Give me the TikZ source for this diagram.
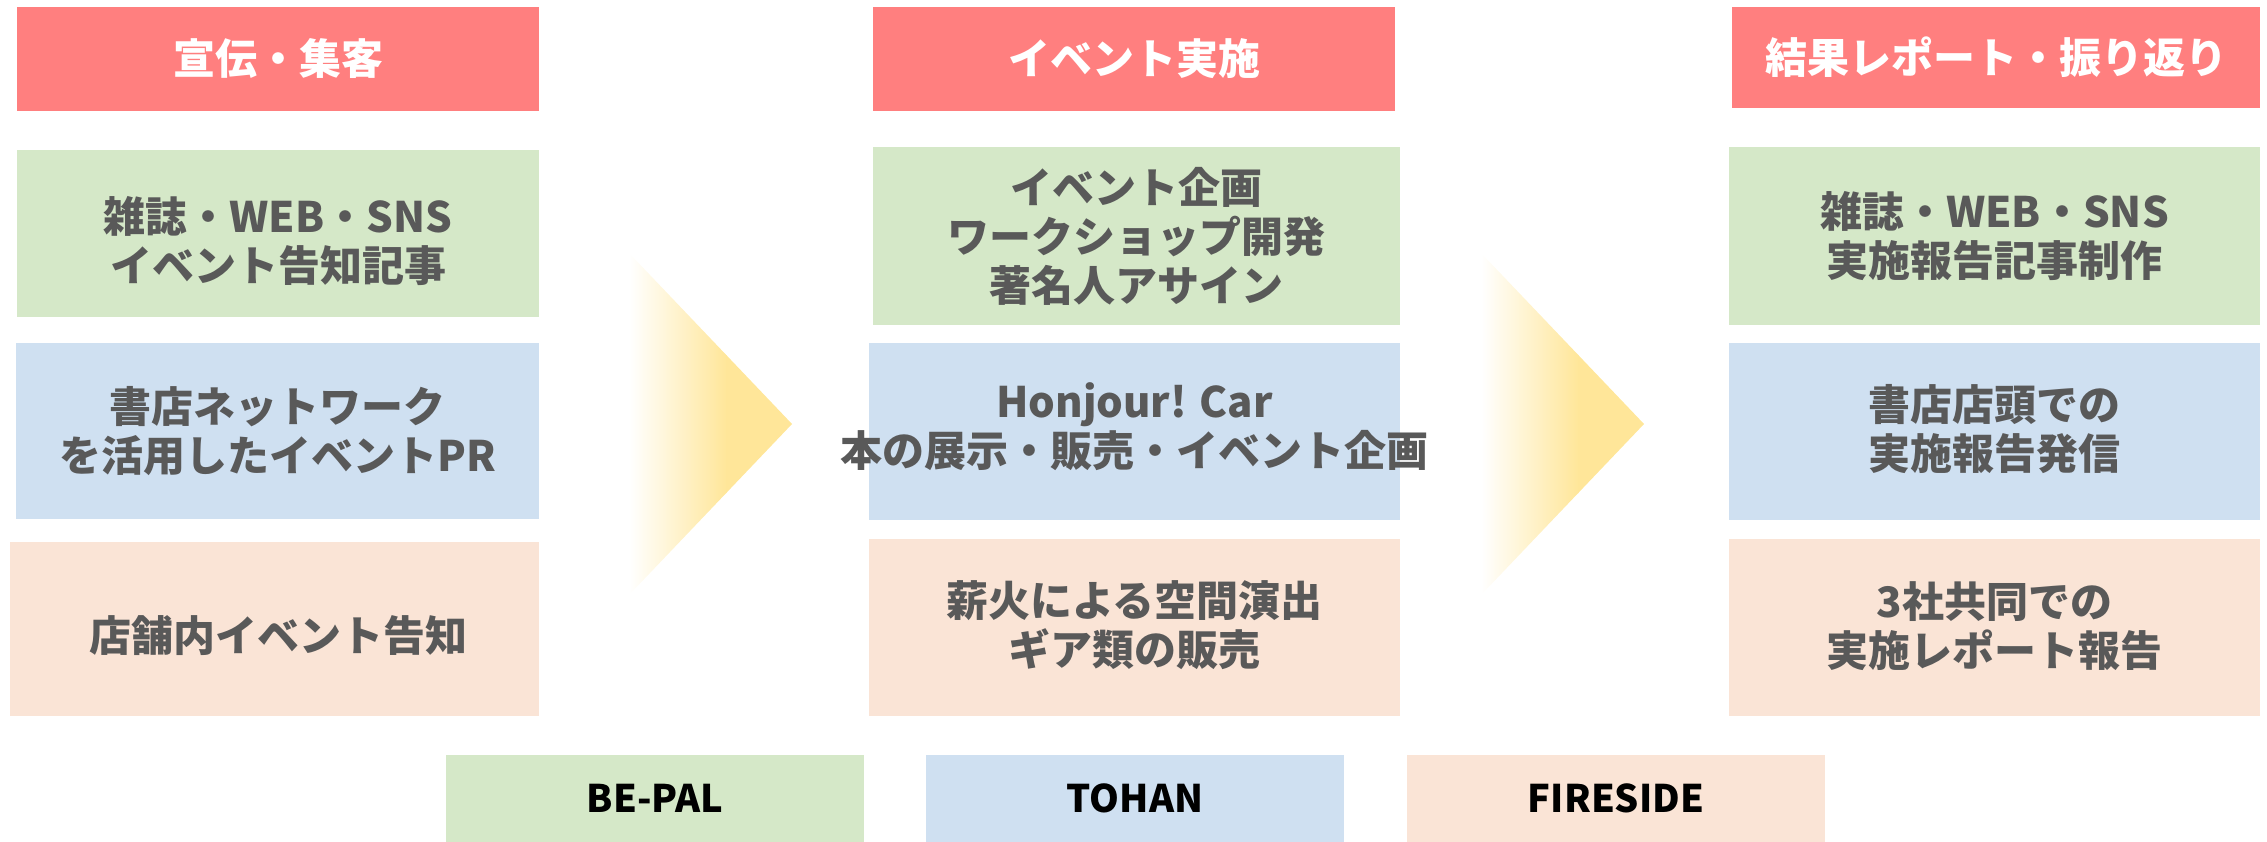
\documentclass[tikz,border=0pt]{standalone}
\usepackage{fontspec}
\newfontfamily\jp{Noto Sans CJK JP}
\definecolor{hdr}{HTML}{FF7F7F}
\definecolor{grn}{HTML}{D5E8C8}
\definecolor{blu}{HTML}{CFE0F1}
\definecolor{pch}{HTML}{FAE4D6}
\definecolor{ylw}{HTML}{FFE699}
\definecolor{txt}{HTML}{595959}
\tikzset{
  box/.style={inner sep=0pt, align=center, text=txt, font=\jp\bfseries\fontsize{42}{49}\selectfont},
  hdrbox/.style={box, fill=hdr, text=white},
  gbox/.style={box, fill=grn},
  bbox/.style={box, fill=blu},
  pbox/.style={box, fill=pch},
  legend/.style={inner sep=0pt, align=center, text=black, font=\jp\bfseries\fontsize{38}{44}\selectfont, minimum width=418, minimum height=87},
}
\newcommand{\chev}[1]{%
  \begin{scope}
    \clip (#1,253) -- (#1+163,424) -- (#1,595) -- cycle;
    \shade[left color=white, right color=ylw] (#1,250) rectangle (#1+98,600);
    \fill[ylw] (#1+97,250) rectangle (#1+165,600);
  \end{scope}}
\begin{document}
\begin{tikzpicture}[x=1pt,y=-1pt]
\useasboundingbox (0,0) rectangle (2267,842);
% left column
\node[hdrbox, minimum width=522, minimum height=104] (h1) at (278,59) {宣伝・集客};
\node[gbox, minimum width=522, minimum height=167] (g1) at (278,233.5) {};
\node[box] (g1t) at (278,241) {雑誌・WEB・SNS\\イベント告知記事};
\node[bbox, minimum width=523, minimum height=176] (b1) at (277.5,431) {書店ネットワーク\\を活用したイベントPR};
\node[pbox, minimum width=529, minimum height=174] (p1) at (274.5,629) {};
\node[box] (p1t) at (278,636) {店舗内イベント告知};
% middle column
\node[hdrbox, minimum width=522, minimum height=104] (h2) at (1134,59) {イベント実施};
\node[gbox, minimum width=527, minimum height=178] (g2) at (1136.5,236) {イベント企画\\ワークショップ開発\\著名人アサイン};
\node[bbox, minimum width=531, minimum height=177] (b2) at (1134.5,431.5) {};
\node[box] (b2t) at (1134.5,427) {Honjour! Car\\本の展示・販売・イベント企画};
\node[pbox, minimum width=531, minimum height=177] (p2) at (1134.5,627.5) {};
\node[box] (p2t) at (1134.5,625) {薪火による空間演出\\ギア類の販売};
% right column
\node[hdrbox, minimum width=528, minimum height=101] (h3) at (1996,57.5) {結果レポート・振り返り};
\node[gbox, minimum width=531, minimum height=178] (g3) at (1994.5,236) {雑誌・WEB・SNS\\実施報告記事制作};
\node[bbox, minimum width=531, minimum height=177] (b3) at (1994.5,431.5) {};
\node[box] (b3t) at (1994.5,429) {書店店頭での\\実施報告発信};
\node[pbox, minimum width=531, minimum height=177] (p3) at (1994.5,627.5) {};
\node[box] (p3t) at (1994.5,626) {3社共同での\\実施レポート報告};
% chevrons
\chev{629}
\chev{1481}
% legend
\node[legend, fill=grn] (l1) at (655,798.5) {BE-PAL};
\node[legend, fill=blu] (l2) at (1135,798.5) {TOHAN};
\node[legend, fill=pch] (l3) at (1616,798.5) {FIRESIDE};
\end{tikzpicture}
\end{document}
